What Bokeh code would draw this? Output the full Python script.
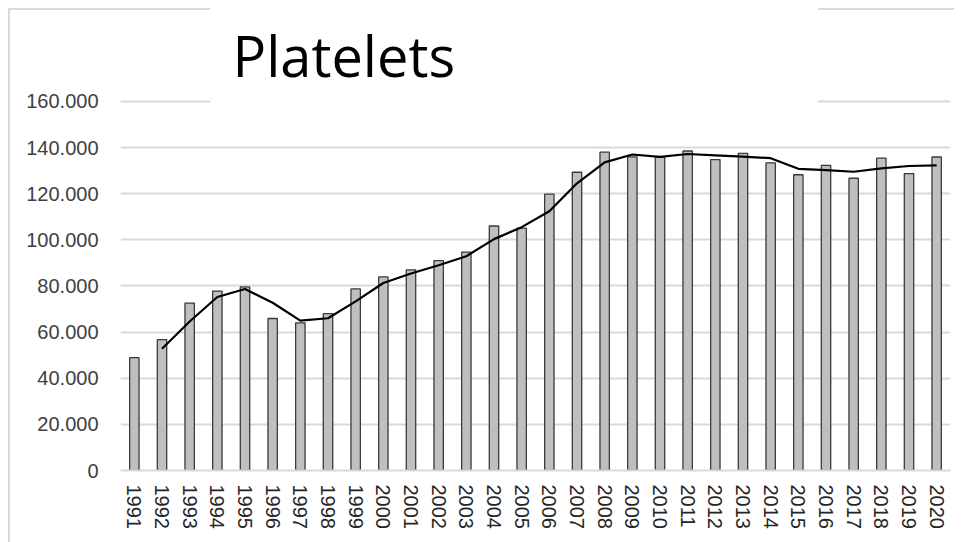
from bokeh.plotting import figure
from bokeh.models import FactorRange, Range1d, FixedTicker, BoxAnnotation
from bokeh.embed import file_html
from bokeh.resources import INLINE

years = ["1991", "1992", "1993", "1994", "1995", "1996", "1997", "1998", "1999", "2000",
         "2001", "2002", "2003", "2004", "2005", "2006", "2007", "2008", "2009", "2010",
         "2011", "2012", "2013", "2014", "2015", "2016", "2017", "2018", "2019", "2020"]

platelets = [48900, 56700, 72600, 77800, 79600, 65900, 64000, 68000, 78700, 83900,
             87000, 91000, 94700, 106000, 105100, 119800, 129300, 138000, 136000, 135900,
             138500, 134800, 137500, 133400, 128200, 132300, 126700, 135400, 128700, 135900]

trend_years = ["1992", "1993", "1994", "1995", "1996", "1997", "1998", "1999", "2000",
               "2001", "2002", "2003", "2004", "2005", "2006", "2007", "2008", "2009", "2010",
               "2011", "2012", "2013", "2014", "2015", "2016", "2017", "2018", "2019", "2020"]
trend = [52800, 64600, 75200, 78700, 72700, 65000, 66000, 73300, 81300,
         85400, 89000, 92900, 100300, 105500, 112400, 124500, 133600, 137000, 136000,
         137200, 136600, 136100, 135400, 130800, 130200, 129500, 131000, 132000, 132300]

y_ticks = [0, 20000, 40000, 60000, 80000, 100000, 120000, 140000, 160000]
y_tick_labels = ["0", "20.000", "40.000", "60.000", "80.000", "100.000", "120.000", "140.000", "160.000"]

TICK_COLOR = "#404040"
GRID_COLOR = "#D9D9D9"

p = figure(
    x_range=FactorRange(*years, range_padding=0),
    y_range=Range1d(0, 163000),
    width=954, height=542,
    output_backend="svg", toolbar_location=None,
    title="Platelets",
    min_border_left=120, min_border_right=4, min_border_top=94, min_border_bottom=72,
)
p.outline_line_color = None
p.background_fill_color = "white"
p.border_fill_color = None

# light chart-area border (left edge and top edge, interrupted by the title box)
p.styles = {
    "background": (
        "linear-gradient(#D9D9D9,#D9D9D9) 8px 8px / 2px 100% no-repeat, "
        "linear-gradient(#D9D9D9,#D9D9D9) 8px 8px / 202px 2px no-repeat, "
        "linear-gradient(#D9D9D9,#D9D9D9) 818px 8px / 300px 2px no-repeat, white"
    ),
}

p.title.align = "left"
p.title.offset = 112
p.title.text_font = "Open Sans"
p.title.text_font_size = "56px"
p.title.text_font_style = "normal"
p.title.text_color = "black"
p.title.standoff = 4

p.vbar(x=years, top=platelets, width=0.34, fill_color="#BFBFBF",
       line_color="#3A3A3A", line_width=1.3)
p.line(x=trend_years, y=trend, line_color="black", line_width=2.2, line_join="round")

# white box behind the title hiding part of the top gridline
p.add_layout(BoxAnnotation(left=3.25, right=25.2, bottom=155000, fill_color="white",
                           fill_alpha=1.0, line_color=None))

p.ygrid.ticker = FixedTicker(ticks=y_ticks)
p.ygrid.grid_line_color = GRID_COLOR
p.ygrid.grid_line_width = 1.8
p.xgrid.grid_line_color = None

p.yaxis.ticker = FixedTicker(ticks=y_ticks)
p.yaxis.major_label_overrides = {t: lab for t, lab in zip(y_ticks, y_tick_labels)}
p.yaxis.axis_line_color = None
p.yaxis.major_tick_line_color = None
p.yaxis.minor_tick_line_color = None
p.yaxis.major_tick_out = 0
p.yaxis.major_tick_in = 0
p.yaxis.major_label_standoff = 22
p.yaxis.major_label_text_font = "Liberation Sans"
p.yaxis.major_label_text_font_size = "20px"
p.yaxis.major_label_text_color = TICK_COLOR

p.xaxis.axis_line_color = GRID_COLOR
p.xaxis.axis_line_width = 1.8
p.xaxis.major_tick_line_color = None
p.xaxis.minor_tick_line_color = None
p.xaxis.major_tick_out = 0
p.xaxis.major_tick_in = 0
p.xaxis.major_label_orientation = "vertical"
p.xaxis.major_label_standoff = 14
p.xaxis.major_label_text_font = "Liberation Sans"
p.xaxis.major_label_text_font_size = "20px"
p.xaxis.major_label_text_color = "#262626"

open("out.html", "w").write(file_html(p, INLINE))
